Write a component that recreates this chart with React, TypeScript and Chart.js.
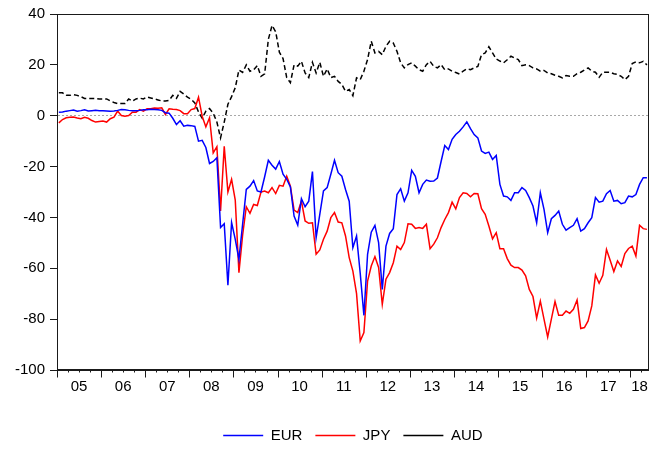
import React, { useEffect, useRef } from 'react';
import { Chart, registerables } from 'chart.js';

Chart.register(...registerables);

// Monthly observations, Jan 2005 – May 2018
const startYear = 2005;
const yearLabels = ['05', '06', '07', '08', '09', '10', '11', '12', '13', '14', '15', '16', '17', '18'];
const yTickValues = [-100, -80, -60, -40, -20, 0, 20, 40];

const eur = [
  1.4, 1.5, 1.8, 2.0, 2.2, 1.8, 2.0, 2.3, 1.9, 2.0, 2.1, 2.0,
  2.0, 1.9, 1.8, 1.9, 2.1, 2.4, 2.3, 2.1, 2.0, 2.0, 2.1, 2.3,
  2.3, 2.5, 2.4, 2.3, 2.1, 1.2, 1.0, -1.0, -3.5, -2.0, -4.1, -3.8,
  -3.9, -4.2, -10.0, -9.7, -12.5, -18.8, -18.0, -16.5, -44.0, -42.5, -66.7, -42.0,
  -48.6, -56.5, -42.7, -29.0, -27.7, -25.5, -29.6, -30.0, -24.0, -17.5, -19.5, -21.0,
  -18.0, -23.0, -25.0, -28.0, -39.5, -43.0, -32.6, -35.8, -33.6, -22.0, -48.0, -38.8,
  -29.6, -28.3, -23.0, -17.5, -22.4, -23.8, -29.0, -33.6, -51.9, -47.3, -62.0, -78.5,
  -54.5, -45.8, -43.1, -49.9, -68.3, -51.3, -46.3, -44.4, -31.0, -28.7, -33.6, -30.3,
  -21.5, -23.8, -30.3, -27.0, -25.3, -25.8, -25.7, -24.5, -18.0, -11.7, -13.3, -9.3,
  -7.4, -6.1, -4.4, -2.4, -5.1, -7.4, -8.7, -13.9, -14.8, -14.3, -17.2, -15.6,
  -27.0, -31.6, -31.9, -33.3, -30.3, -30.3, -28.3, -29.4, -32.2, -35.5, -42.1, -30.3,
  -36.8, -46.0, -40.5, -39.2, -37.5, -42.7, -45.0, -44.0, -43.1, -40.5, -45.4, -44.4,
  -42.1, -40.1, -32.2, -34.0, -33.6, -30.7, -29.4, -33.6, -33.3, -34.6, -34.2, -31.6,
  -31.9, -31.0, -27.0, -24.4, -24.4,
];

const jpy = [
  -2.8, -1.5, -0.8, -0.6, -0.5, -0.9, -1.2, -0.6, -1.0, -1.9, -2.5, -2.3,
  -2.1, -2.5, -1.2, -0.6, 1.8, 0.1, -0.2, 0.1, 1.4, 1.4, 2.4, 1.8,
  2.7, 2.7, 3.0, 2.9, 3.1, 0.5, 2.7, 2.5, 2.4, 2.0, 0.8, 0.8,
  2.4, 2.8, 7.3, -0.2, -4.4, -0.8, -14.6, -12.2, -37.5, -12.0, -30.0, -25.0,
  -33.2, -61.7, -47.0, -35.8, -38.4, -34.9, -35.3, -30.0, -29.6, -30.3, -28.3, -30.6,
  -27.4, -27.7, -23.8, -27.7, -37.1, -38.1, -33.6, -41.4, -42.3, -42.1, -54.5, -52.8,
  -48.6, -45.4, -40.1, -38.1, -41.8, -42.1, -47.3, -55.8, -61.1, -70.0, -88.6, -85.3,
  -65.0, -59.1, -55.4, -59.7, -74.2, -64.3, -61.7, -57.8, -51.3, -52.6, -49.9, -42.5,
  -42.7, -44.3, -44.0, -44.3, -42.7, -52.3, -50.5, -48.0, -44.0, -40.8, -38.1, -34.0,
  -36.6, -32.2, -30.3, -30.6, -31.9, -30.6, -30.7, -36.6, -38.8, -43.4, -48.4, -46.0,
  -52.3, -52.3, -56.2, -58.8, -59.7, -59.7, -60.7, -63.0, -68.3, -71.1, -79.6, -72.9,
  -80.0, -87.0, -80.0, -73.1, -78.5, -78.5, -76.8, -77.7, -76.1, -72.5, -83.7, -83.3,
  -80.7, -74.8, -62.6, -65.9, -62.8, -52.6, -56.8, -61.3, -57.1, -59.3, -54.2, -52.2,
  -51.3, -55.2, -43.1, -44.4, -44.7,
];

const aud = [
  9.0, 9.0, 8.0, 8.0, 8.3, 8.0, 7.5, 6.8, 6.8, 6.8, 6.8, 6.6,
  6.6, 6.6, 5.8, 5.2, 4.8, 4.8, 4.8, 6.6, 5.7, 6.6, 6.9, 6.6,
  7.4, 7.0, 6.6, 6.2, 5.8, 5.8, 6.0, 8.0, 6.8, 9.6, 8.5, 7.3,
  6.5, 5.0, 1.5, -1.0, 1.8, 2.8, 1.0, -2.5, -8.7, -2.5, 4.5, 7.5,
  11.0, 18.0, 17.0, 20.0, 17.5, 18.0, 19.7, 15.5, 16.5, 30.0, 35.5, 33.0,
  25.0, 22.5, 15.0, 13.0, 20.0, 19.5, 21.4, 16.8, 15.0, 21.0, 16.8, 21.0,
  15.5, 18.4, 15.0, 15.5, 13.5, 12.3, 9.6, 10.3, 7.9, 14.9, 14.2, 17.5,
  22.1, 29.3, 24.7, 25.3, 24.0, 27.3, 29.3, 28.6, 25.3, 20.8, 18.8, 20.1,
  20.8, 19.5, 18.1, 17.5, 20.1, 21.4, 19.4, 18.8, 20.1, 18.1, 18.4, 17.5,
  17.0, 16.4, 17.5, 18.4, 18.1, 18.8, 19.4, 24.0, 24.7, 27.1, 24.7, 22.3,
  21.5, 20.8, 22.0, 23.4, 22.7, 22.1, 19.7, 20.0, 19.7, 18.8, 18.4, 17.5,
  17.8, 16.8, 16.5, 15.9, 15.5, 14.9, 15.8, 15.5, 15.5, 16.5, 17.1, 18.0,
  18.8, 17.5, 17.1, 15.1, 17.1, 17.1, 17.1, 16.5, 16.2, 15.5, 14.2, 15.5,
  20.5, 21.2, 20.8, 21.4, 20.0,
];

const FONT_FAMILY = "'Liberation Sans', Arial, Helvetica, sans-serif";
const AXIS_COLOR = '#1a1a1a';
const LEGEND_SHIFT = 3;

const nObs = eur.length;
const yearCenter = (i: number) => {
  const start = i * 12 - 0.5;
  const end = Math.min((i + 1) * 12, nObs) - 0.5;
  return (start + end) / 2;
};

const framePlugin = {
  id: 'evFrame',
  afterLayout(chart: any) {
    const lg = chart.legend;
    if (lg) {
      lg.top += LEGEND_SHIFT;
      lg.bottom += LEGEND_SHIFT;
    }
  },
  afterDraw(chart: any) {
    const { ctx, chartArea: a } = chart;
    const xs = chart.scales.x;
    ctx.save();
    ctx.strokeStyle = AXIS_COLOR;
    ctx.lineWidth = 1;
    ctx.setLineDash([]);
    const l = Math.round(a.left) + 0.5;
    const t = Math.round(a.top) + 0.5;
    const r = Math.round(a.right) - 0.5;
    const b = Math.round(a.bottom) - 0.5;
    ctx.strokeRect(l, t, r - l, b - t);
    ctx.beginPath();
    for (let m = 0; m < nObs; m += 3) {
      const px = Math.round(xs.getPixelForValue(m - 0.5)) + 0.5;
      const len = m % 12 === 0 ? 8 : 3;
      ctx.moveTo(px, b);
      ctx.lineTo(px, b + len);
    }
    ctx.stroke();
    ctx.restore();
  },
};

export default function App() {
  const canvasRef = useRef<HTMLCanvasElement | null>(null);

  useEffect(() => {
    const canvas = canvasRef.current;
    if (!canvas) return;
    const points = (arr: number[]) => arr.map((v, i) => ({ x: i, y: v }));
    const chart = new Chart(canvas, {
      type: 'line',
      data: {
        datasets: [
          {
            label: 'EUR',
            data: points(eur),
            borderColor: '#0000ff',
            backgroundColor: '#0000ff',
            borderWidth: 1.5,
            pointRadius: 0,
            tension: 0,
          },
          {
            label: 'JPY',
            data: points(jpy),
            borderColor: '#ff0000',
            backgroundColor: '#ff0000',
            borderWidth: 1.5,
            pointRadius: 0,
            tension: 0,
          },
          {
            label: 'AUD',
            data: points(aud),
            borderColor: '#000000',
            backgroundColor: '#000000',
            borderWidth: 1.5,
            borderDash: [5, 3],
            pointRadius: 0,
            tension: 0,
          },
        ],
      },
      options: {
        animation: false,
        responsive: false,
        maintainAspectRatio: false,
        devicePixelRatio: 1,
        events: [],
        layout: { padding: { top: 14, right: 6, left: 0, bottom: 0 } },
        plugins: {
          tooltip: { enabled: false },
          legend: {
            display: true,
            position: 'bottom',
            fullSize: false,
            align: 'center',
            labels: {
              usePointStyle: true,
              pointStyle: 'line',
              pointStyleWidth: 40,
              boxWidth: 40,
              padding: 13,
              color: '#000',
              font: { family: FONT_FAMILY, size: 15 },
            },
          },
        },
        scales: {
          x: {
            type: 'linear',
            min: -0.5,
            max: nObs - 0.5,
            afterBuildTicks: (scale: any) => {
              scale.ticks = yearLabels.map((_, i) => ({ value: yearCenter(i) }));
            },
            afterFit: (scale: any) => {
              scale.height = 42;
            },
            ticks: {
              autoSkip: false,
              maxRotation: 0,
              minRotation: 0,
              padding: 8,
              color: '#000',
              font: { family: FONT_FAMILY, size: 15 },
              callback: (_v: any, index: number) => yearLabels[index],
            },
            grid: { display: false, drawTicks: false },
            border: { display: true, color: AXIS_COLOR, width: 1 },
          },
          y: {
            type: 'linear',
            min: -100,
            max: 40,
            afterBuildTicks: (scale: any) => {
              scale.ticks = yTickValues.map((v) => ({ value: v }));
            },
            afterFit: (scale: any) => {
              scale.width = 57;
            },
            ticks: {
              padding: 5,
              color: '#000',
              font: { family: FONT_FAMILY, size: 15 },
              callback: (v: any) => String(v),
            },
            grid: {
              display: true,
              drawOnChartArea: true,
              drawTicks: true,
              tickLength: 7,
              tickColor: AXIS_COLOR,
              color: (c: any) => (c.tick && c.tick.value === 0 ? '#a8a8a8' : 'rgba(0,0,0,0)'),
              lineWidth: 1,
            },
            border: { display: true, color: AXIS_COLOR, width: 1, dash: [2, 2] },
          },
        },
      },
      plugins: [framePlugin],
    });
    return () => chart.destroy();
  }, []);

  return (
    <div style={{ position: 'fixed', left: 0, top: 0, width: 656, height: 450, background: '#ffffff' }}>
      <canvas ref={canvasRef} width={656} height={450} style={{ display: 'block' }} />
    </div>
  );
}
